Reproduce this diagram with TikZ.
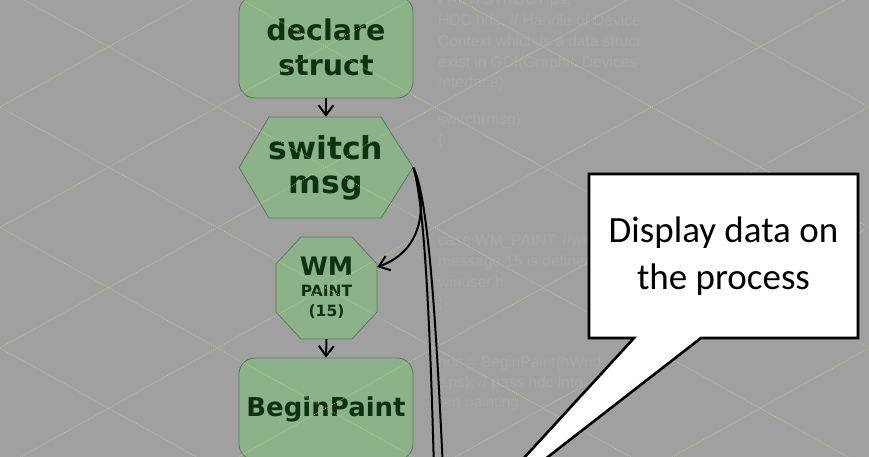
\documentclass[tikz,border=0pt]{standalone}
\usepackage{fontspec}
\setmainfont{DejaVu Sans}
\newfontfamily\bgfont{Liberation Sans}
\newfontfamily\callfont{Carlito}
\usetikzlibrary{arrows.meta,calc}
\definecolor{bggray}{RGB}{160,160,160}
\definecolor{gridcol}{RGB}{214,202,140}
\definecolor{boxfill}{RGB}{140,178,138}
\definecolor{boxline}{RGB}{92,118,92}
\definecolor{labelcol}{RGB}{14,50,14}
\definecolor{faint}{RGB}{167,167,167}
\begin{document}
\begin{tikzpicture}[x=1pt,y=-1pt,
  shapefill/.style={fill=boxfill,draw=boxline,line width=0.8pt},
  lbl/.style={text=labelcol,align=center,inner sep=0pt},
  flow/.style={draw=black,line width=2pt,-{Straight Barb[length=10pt,width=15pt,line width=2pt]}},
  wire/.style={draw=black,line width=2pt},
  bgtext/.style={anchor=base west,inner sep=0pt,text=faint,font=\bgfont\fontsize{15.5}{18}\selectfont},
  gridline/.style={draw=gridcol,line width=0.9pt,dash pattern=on 0.9pt off 1.2pt,opacity=0.7},
  calloutbox/.style={fill=white,draw=black,line width=2.6pt,line join=miter},
  calltext/.style={align=center,inner sep=0pt,font=\callfont\fontsize{37}{47}\selectfont}
]
\fill[bggray] (0,0) rectangle (869,457);
\useasboundingbox (0,0) rectangle (869,457);

% faint background code text
\node[bgtext] (t0) at (438,5) {PAINTSTRUCT ps;};
\node[bgtext] (t1) at (438,26) {HDC hdc; // Handle of Device};
\node[bgtext] (t2) at (438,47) {Context which is a data struct};
\node[bgtext] (t3) at (438,68) {exist in GDI(Graphic Devices};
\node[bgtext] (t4) at (438,88) {Interface)};
\node[bgtext] (t5) at (438,125) {switch(msg)};
\node[bgtext] (t6) at (438,146) {\{};
\node[bgtext] (t7) at (438,245) {case WM\_PAINT: //window};
\node[bgtext] (t8) at (438,266) {message 15 is defined in};
\node[bgtext] (t9) at (438,287) {winuser.h};
\node[bgtext] (t10) at (438,308) {\{};
\node[bgtext] (t11) at (438,367) {hdc = BeginPaint(hWnd,};
\node[bgtext] (t12) at (438,387) {\&ps); // pass hdc into};
\node[bgtext] (t13) at (438,407) {run painting};

% declare struct
\node[lbl,shapefill,rounded corners=16pt,minimum width=174,minimum height=102,
      font=\bfseries\fontsize{28.5}{35}\selectfont] (decl) at (326,47) {declare\\struct};

% switch msg hexagon
\coordinate (hexc) at (326,167.5);
\draw[shapefill] ($(hexc)+(-87,0)$) -- ($(hexc)+(-57,-50.5)$) -- ($(hexc)+(55,-50.5)$)
  -- ($(hexc)+(87,0)$) -- ($(hexc)+(55,50.5)$) -- ($(hexc)+(-57,50.5)$) -- cycle;
\node[lbl,minimum width=174,minimum height=101,
      font=\bfseries\fontsize{31.5}{34}\selectfont] (sw) at (hexc) {switch\\msg};

% WM PAINT octagon
\coordinate (octc) at (326.5,288);
\draw[shapefill] ($(octc)+(-25.5,-51)$) -- ($(octc)+(25.5,-51)$) -- ($(octc)+(50.5,-24)$)
  -- ($(octc)+(50.5,24)$) -- ($(octc)+(25.5,51)$) -- ($(octc)+(-25.5,51)$)
  -- ($(octc)+(-50.5,24)$) -- ($(octc)+(-50.5,-24)$) -- cycle;
\node[lbl,minimum width=101,minimum height=102,
      font=\bfseries\fontsize{15.5}{20.5}\selectfont] (oct) at (octc)
      {{\fontsize{25.5}{25.5}\selectfont WM}\\PAINT\\(15)};

% BeginPaint
\node[lbl,shapefill,rounded corners=16pt,minimum width=174,minimum height=102,
      font=\bfseries\fontsize{26}{30}\selectfont] (bp) at (326,409) {BeginPaint};

% grid overlay
\begin{scope}
\clip (0,0) rectangle (869,457);
\foreach \n in {-4,...,8} {
  \pgfmathsetmacro\c{-13.5+120.5*\n}
  \draw[gridline] (0,\c) -- (869,\c+482.1);
  \draw[gridline] (0,\c) -- (869,\c-482.1);
}
\end{scope}

% connectors
\draw[flow] (decl.south) -- (sw.north);
\draw[flow] (oct.south) -- (bp.north);
\draw[flow] (sw.east) .. controls ($(sw.east)+(14,35)$) and ($(oct.east)+(48,-38)$) .. ([yshift=21]oct.east);
\coordinate (offa) at (434,470);
\coordinate (offb) at (443,470);
\draw[wire] (sw.east) .. controls ($(sw.east)+(11,33)$) and (430,320) .. (offa);
\draw[wire] (sw.east) .. controls ($(sw.east)+(15,28)$) and (436,320) .. (offb);

% callout
\coordinate (callc) at (723.5,256);
\coordinate (tip) at (468,519);
\draw[calloutbox] ($(callc)+(-134.5,-82)$) -- ($(callc)+(134.5,-82)$) -- ($(callc)+(134.5,82)$)
  -- ($(callc)+(-22.5,82)$) -- (tip) -- ($(callc)+(-89.5,82)$) -- ($(callc)+(-134.5,82)$) -- cycle;
\node[calltext,minimum width=269,minimum height=164] (call) at (callc) {Display data on\\the process};
\end{tikzpicture}
\end{document}
